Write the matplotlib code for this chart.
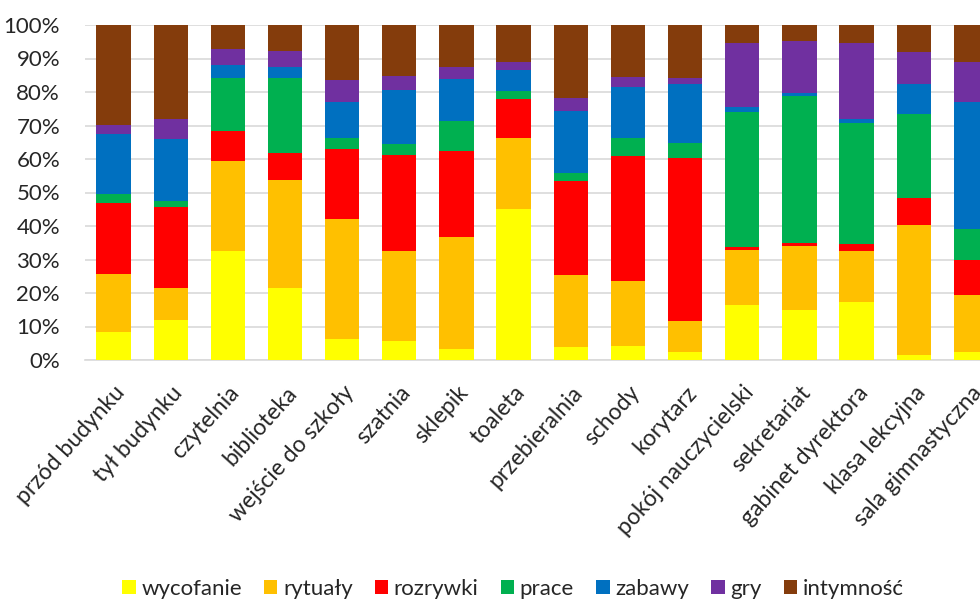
import matplotlib
matplotlib.use("Agg")
import matplotlib.pyplot as plt
from matplotlib.patches import Patch
import numpy as np

plt.rcParams['font.family'] = ['Lato', 'DejaVu Sans']

locations = [
    "przód budynku", "tył budynku", "czytelnia", "biblioteka",
    "wejście do szkoły", "szatnia", "sklepik", "toaleta",
    "przebieralnia", "schody", "korytarz", "pokój nauczycielski",
    "sekretariat", "gabinet dyrektora", "klasa lekcyjna", "sala gimnastyczna",
]

series_names = ["wycofanie", "rytuały", "rozrywki", "prace", "zabawy", "gry", "intymność"]

# share of each form of time structuring per location (%)
wycofanie = [8.5, 11.9, 32.6, 21.5, 6.2, 5.8, 3.2, 45.2, 3.9, 4.2, 2.4, 16.5, 15.0, 17.3, 1.6, 2.4]
rytualy   = [17.2, 9.6, 26.8, 32.1, 36.0, 26.8, 33.6, 21.1, 21.4, 19.5, 9.1, 16.4, 19.1, 15.3, 38.6, 17.1]
rozrywki  = [21.1, 24.1, 8.9, 8.1, 20.7, 28.7, 25.7, 11.5, 28.0, 37.3, 48.7, 0.8, 0.7, 1.9, 8.2, 10.5]
prace     = [2.7, 1.9, 16.0, 22.6, 3.5, 3.1, 8.7, 2.6, 2.6, 5.4, 4.5, 40.2, 44.1, 36.2, 25.1, 9.1]
zabawy    = [18.0, 18.4, 3.8, 3.1, 10.7, 16.1, 12.7, 6.2, 18.4, 15.1, 17.7, 1.5, 0.8, 1.2, 8.9, 37.9]
gry       = [2.6, 6.0, 4.6, 4.9, 6.4, 4.2, 3.5, 2.3, 3.8, 3.1, 1.9, 19.1, 15.6, 22.6, 9.5, 11.9]
intymnosc = [29.9, 28.1, 7.3, 7.7, 16.5, 15.3, 12.6, 11.1, 21.9, 15.4, 15.7, 5.5, 4.7, 5.5, 8.1, 11.1]

colors = ["#FFFF00", "#FFC000", "#FF0000", "#00B050", "#0070C0", "#7030A0", "#843C0C"]

tick_labels = ["0%", "10%", "20%", "30%", "40%", "50%", "60%", "70%", "80%", "90%", "100%"]

data = np.array([wycofanie, rytualy, rozrywki, prace, zabawy, gry, intymnosc])
data = data / data.sum(axis=0) * 100.0

fig = plt.figure(figsize=(9.8, 6.01), dpi=100)
ax = fig.add_axes([85 / 980, 241 / 601, 914.4 / 980, 335 / 601])

x = np.arange(len(locations))
bottom = np.zeros(len(locations))
for name, vals, col in zip(series_names, data, colors):
    ax.bar(x, vals, width=0.6, bottom=bottom, color=col, label=name,
           linewidth=0, zorder=3)
    bottom += vals

ax.set_xlim(-0.5, len(locations) - 0.5)
ax.set_ylim(0, 100)
ax.set_yticks(np.arange(0, 101, 10))
ax.set_yticklabels(tick_labels, fontsize=16, color="#262626")
ax.yaxis.grid(True, color="#D9D9D9", linewidth=1.2, zorder=0)
ax.set_axisbelow(True)
ax.tick_params(axis="y", length=0, pad=18)
ax.tick_params(axis="x", length=0, pad=16)
ax.set_xticks(x)
ax.set_xticklabels(locations, rotation=48, ha="right", rotation_mode="anchor",
                   fontsize=16.5, color="#262626")
for side in ["left", "right", "top"]:
    ax.spines[side].set_visible(False)
ax.spines["bottom"].set_color("#D9D9D9")
ax.spines["bottom"].set_linewidth(1.2)

handles = [Patch(facecolor=c, edgecolor="none", label=n) for n, c in zip(series_names, colors)]
fig.legend(handles=handles, loc="center", bbox_to_anchor=(513 / 980, 1 - 589 / 601),
           ncol=7, frameon=False, fontsize=16, handlelength=0.6, handleheight=0.6,
           handletextpad=0.25, columnspacing=1.0, labelcolor="#262626")

fig.savefig("out.png", dpi=100)
